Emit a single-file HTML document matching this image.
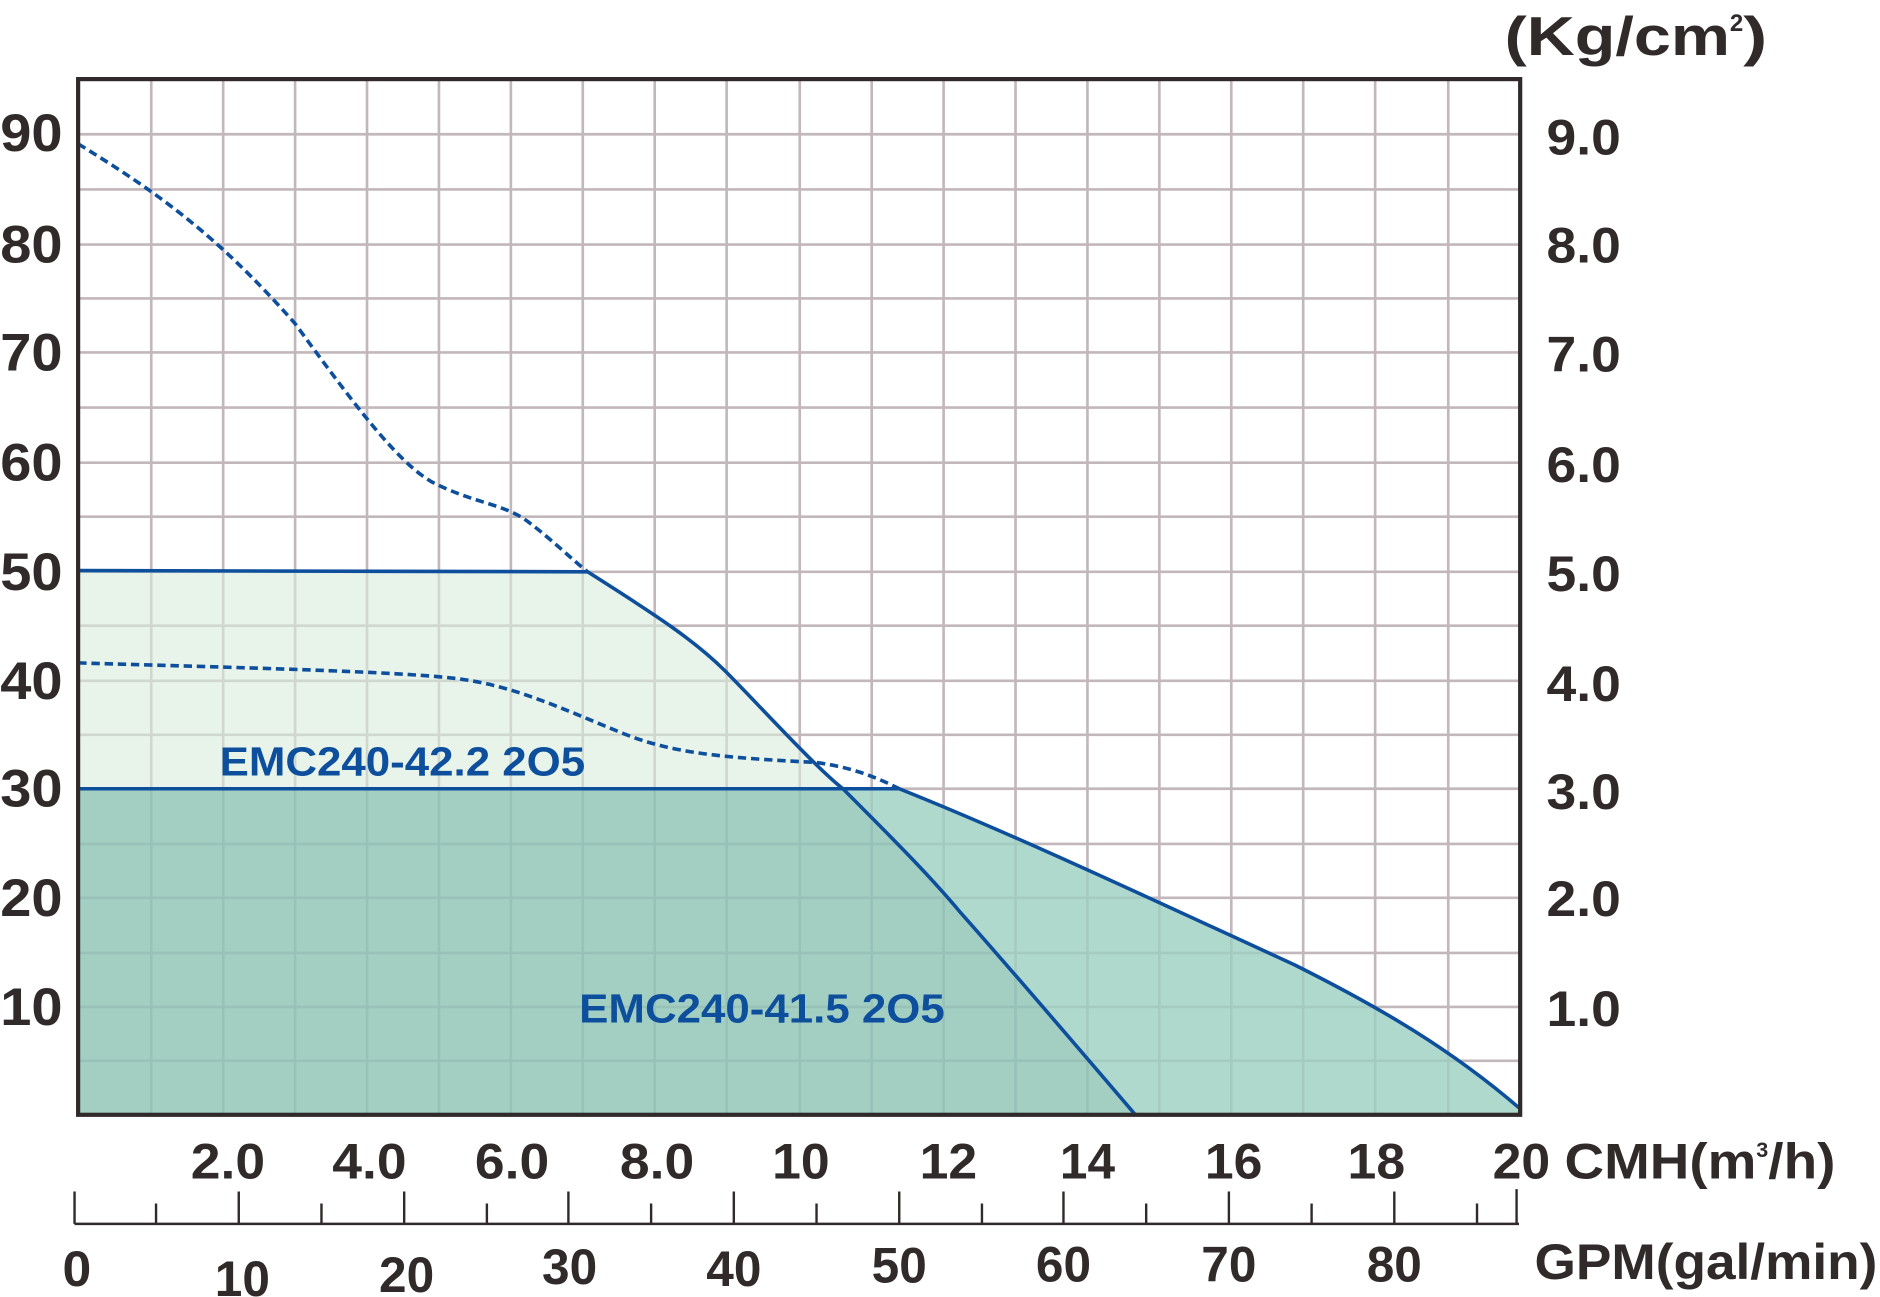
<!DOCTYPE html>
<html><head><meta charset="utf-8"><style>html,body{margin:0;padding:0;background:#fff}svg{display:block}</style></head>
<body>
<svg width="1880" height="1297" viewBox="0 0 1568 1082" xmlns="http://www.w3.org/2000/svg" font-family="'Liberation Sans', sans-serif" font-weight="bold">
<rect width="1568" height="1082" fill="#fff"/>
<g stroke="#c2b7ba" stroke-width="2.2">
<path d="M126 66V930M186 66V930M246 66V930M306 66V930M366 66V930M426 66V930M486 66V930M546 66V930M606 66V930M667 66V930M727 66V930M787 66V930M847 66V930M907 66V930M967 66V930M1027 66V930M1087 66V930M1147 66V930M1208 66V930"/>
<path d="M65 112H1268M65 158H1268M65 204H1268M65 249H1268M65 294H1268M65 340H1268M65 386H1268M65 431H1268M65 477H1268M65 522H1268M65 568H1268M65 613H1268M65 658H1268M65 704H1268M65 749H1268M65 795H1268M65 840H1268M65 885H1268"/>
</g>
<path d="M65 476 L490 477 C550 515 580 535 605 560 C630 585 680 640 703 658 L65 658Z" fill="#d8ecdc" opacity="0.6"/>
<path d="M65 658 L703 658 C740 695 775 730 800 760 C840 805 900 875 947 930 L65 930Z" fill="#8fc5b6" opacity="0.82"/>
<path d="M703 658 L750 658 C850 698 960 750 1080 805 C1150 840 1210 875 1268 925 L1268 930 L947 930 C900 875 840 805 800 760 C775 730 740 695 703 658Z" fill="#9ccfc2" opacity="0.8"/>
<g fill="none" stroke="#0d4f9c" stroke-width="3">
<path d="M65 476 L490 477 C550 515 580 535 605 560 C630 585 680 640 703 658 C740 695 775 730 800 760 C840 805 900 875 947 930"/>
<path d="M65 658 L750 658 C850 698 960 750 1080 805 C1150 840 1210 875 1268 925"/>
<path d="M65 120 C130 160 180 195 246 270 C290 330 330 385 360 402 C395 420 420 420 440 435 C460 450 475 465 490 477" stroke-dasharray="7 4"/>
<path d="M65 553 C200 557 330 560 380 566 C430 572 470 592 520 612 C560 628 600 632 680 636 C710 640 730 648 750 658" stroke-dasharray="7 4"/>
</g>
<rect x="65" y="66" width="1203" height="864" fill="none" stroke="#302a2a" stroke-width="3.5"/>
<g fill="#302a2a" font-size="44" lengthAdjust="spacingAndGlyphs">
<text x="0" y="126" textLength="52" lengthAdjust="spacingAndGlyphs">90</text>
<text x="0" y="219" textLength="52" lengthAdjust="spacingAndGlyphs">80</text>
<text x="0" y="309" textLength="52" lengthAdjust="spacingAndGlyphs">70</text>
<text x="0" y="401" textLength="52" lengthAdjust="spacingAndGlyphs">60</text>
<text x="0" y="492" textLength="52" lengthAdjust="spacingAndGlyphs">50</text>
<text x="0" y="583" textLength="52" lengthAdjust="spacingAndGlyphs">40</text>
<text x="0" y="673" textLength="52" lengthAdjust="spacingAndGlyphs">30</text>
<text x="0" y="764" textLength="52" lengthAdjust="spacingAndGlyphs">20</text>
<text x="0" y="855" textLength="52" lengthAdjust="spacingAndGlyphs">10</text>
</g>
<g fill="#302a2a" font-size="42">
<text x="1290" y="129" textLength="62" lengthAdjust="spacingAndGlyphs">9.0</text>
<text x="1290" y="219" textLength="62" lengthAdjust="spacingAndGlyphs">8.0</text>
<text x="1290" y="310" textLength="62" lengthAdjust="spacingAndGlyphs">7.0</text>
<text x="1290" y="402" textLength="62" lengthAdjust="spacingAndGlyphs">6.0</text>
<text x="1290" y="493" textLength="62" lengthAdjust="spacingAndGlyphs">5.0</text>
<text x="1290" y="585" textLength="62" lengthAdjust="spacingAndGlyphs">4.0</text>
<text x="1290" y="675" textLength="62" lengthAdjust="spacingAndGlyphs">3.0</text>
<text x="1290" y="764" textLength="62" lengthAdjust="spacingAndGlyphs">2.0</text>
<text x="1290" y="856" textLength="62" lengthAdjust="spacingAndGlyphs">1.0</text>
<text x="1255" y="46" font-size="46"><tspan textLength="188" lengthAdjust="spacingAndGlyphs">(Kg/cm</tspan><tspan font-size="20" dy="-20">2</tspan><tspan dy="20" textLength="20" lengthAdjust="spacingAndGlyphs">)</tspan></text>
</g>
<g fill="#302a2a" font-size="42">
<text x="159" y="983" textLength="62" lengthAdjust="spacingAndGlyphs">2.0</text>
<text x="277" y="983" textLength="62" lengthAdjust="spacingAndGlyphs">4.0</text>
<text x="396" y="983" textLength="62" lengthAdjust="spacingAndGlyphs">6.0</text>
<text x="517" y="983" textLength="62" lengthAdjust="spacingAndGlyphs">8.0</text>
<text x="644" y="983" textLength="48" lengthAdjust="spacingAndGlyphs">10</text>
<text x="767" y="983" textLength="48" lengthAdjust="spacingAndGlyphs">12</text>
<text x="884" y="983" textLength="46" lengthAdjust="spacingAndGlyphs">14</text>
<text x="1005" y="983" textLength="48" lengthAdjust="spacingAndGlyphs">16</text>
<text x="1124" y="983" textLength="48" lengthAdjust="spacingAndGlyphs">18</text>
<text x="1245" y="983" textLength="48" lengthAdjust="spacingAndGlyphs">20</text>
<text x="1305" y="983"><tspan textLength="160" lengthAdjust="spacingAndGlyphs">CMH(m</tspan><tspan font-size="18" dy="-18">3</tspan><tspan dy="18" textLength="56" lengthAdjust="spacingAndGlyphs">/h)</tspan></text>
</g>
<g stroke="#302a2a" stroke-width="2" fill="none">
<path d="M62 1021H1267M62 994V1021M130 1004V1021M199 994V1021M268 1004V1021M337 994V1021M406 1004V1021M474 994V1021M543 1004V1021M612 994V1021M681 1004V1021M750 994V1021M819 1004V1021M887 994V1021M956 1004V1021M1025 994V1021M1094 1004V1021M1163 994V1021M1232 1004V1021M1265 992V1021"/>
</g>
<g fill="#302a2a" font-size="42">
<text x="52" y="1073" textLength="24" lengthAdjust="spacingAndGlyphs">0</text>
<text x="179" y="1081" textLength="46" lengthAdjust="spacingAndGlyphs">10</text>
<text x="316" y="1078" textLength="46" lengthAdjust="spacingAndGlyphs">20</text>
<text x="452" y="1071" textLength="46" lengthAdjust="spacingAndGlyphs">30</text>
<text x="589" y="1073" textLength="46" lengthAdjust="spacingAndGlyphs">40</text>
<text x="727" y="1070" textLength="46" lengthAdjust="spacingAndGlyphs">50</text>
<text x="864" y="1069" textLength="46" lengthAdjust="spacingAndGlyphs">60</text>
<text x="1002" y="1069" textLength="46" lengthAdjust="spacingAndGlyphs">70</text>
<text x="1140" y="1069" textLength="46" lengthAdjust="spacingAndGlyphs">80</text>
<text x="1280" y="1067" textLength="286" lengthAdjust="spacingAndGlyphs">GPM(gal/min)</text>
</g>
<g fill="#0d4f9c" font-size="34">
<text x="183" y="647" textLength="305" lengthAdjust="spacingAndGlyphs">EMC240-42.2 2O5</text>
<text x="483" y="853" textLength="305" lengthAdjust="spacingAndGlyphs">EMC240-41.5 2O5</text>
</g>
</svg>
</body></html>
